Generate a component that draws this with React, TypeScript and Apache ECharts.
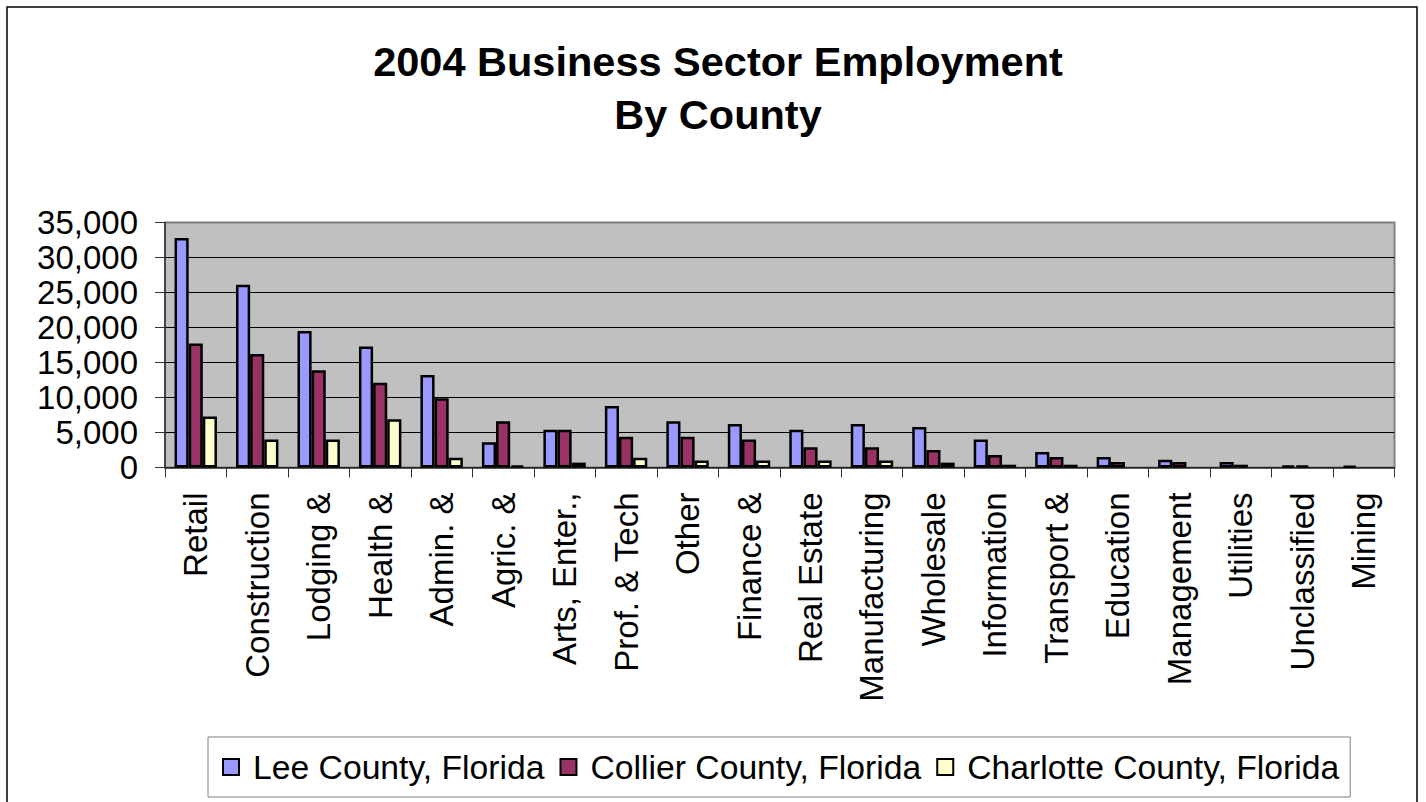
import React, { useEffect, useRef } from "react";
import * as echarts from "echarts";

const categories = [
  "Retail", "Construction", "Lodging &", "Health &", "Admin. &", "Agric. &",
  "Arts, Enter.,", "Prof. & Tech", "Other", "Finance &", "Real Estate",
  "Manufacturing", "Wholesale", "Information", "Transport &", "Education",
  "Management", "Utilities", "Unclassified", "Mining",
];

const leeCounty = [32800, 26100, 19500, 17300, 13200, 3600, 5400, 8800, 6600, 6200, 5400, 6200, 5800, 4000, 2200, 1500, 1100, 800, 300, 250];
const collierCounty = [17700, 16200, 13900, 12100, 9900, 6600, 5400, 4400, 4400, 4000, 2900, 2900, 2500, 1800, 1500, 800, 800, 400, 300, null];
const charlotteCounty = [7300, 4000, 4000, 6900, 1400, 300, 700, 1400, 1000, 1000, 1000, 1000, 700, 400, 400, null, null, null, null, null];

const seriesNames = ["Lee County, Florida", "Collier County, Florida", "Charlotte County, Florida"];
const seriesColors = ["#9999FF", "#993366", "#FFFFCC"];

const yTicks = { min: 0, max: 35000, interval: 5000 };

const FONT = "'Liberation Sans', Arial, Helvetica, sans-serif";

export default function App() {
  const ref = useRef<HTMLDivElement>(null);

  useEffect(() => {
    if (!ref.current) return;
    const chart = echarts.init(ref.current, null, { renderer: "svg" });
    const data = [leeCounty, collierCounty, charlotteCounty];
    chart.setOption({
      animation: false,
      textStyle: { fontFamily: FONT, color: "#000" },
      title: {
        text: "2004 Business Sector Employment\nBy County",
        left: 713,
        top: 30,
        textAlign: "center",
        textStyle: {
          fontFamily: FONT,
          fontSize: 41.5,
          fontWeight: "bold",
          lineHeight: 53,
          color: "#000",
        },
      },
      legend: {
        left: 208,
        top: 737,
        orient: "horizontal",
        padding: [13, 11, 13, 14],
        itemWidth: 16,
        itemHeight: 16,
        itemGap: 15,
        borderColor: "#808080",
        borderWidth: 1,
        backgroundColor: "#fff",
        icon: "rect",
        textStyle: {
          fontFamily: FONT,
          fontSize: 33.7,
          lineHeight: 33,
          color: "#000",
          padding: [0, 0, 0, 9],
        },
        data: seriesNames,
      },
      grid: {
        left: 165,
        top: 222.5,
        width: 1229.5,
        height: 245,
        show: true,
        backgroundColor: "#C0C0C0",
        borderColor: "#808080",
        borderWidth: 2,
      },
      xAxis: {
        type: "category",
        data: categories,
        axisLine: { show: true, lineStyle: { color: "#333", width: 1.5 } },
        axisTick: { show: true, length: 10, lineStyle: { color: "#333", width: 1 } },
        axisLabel: {
          rotate: 90,
          interval: 0,
          margin: 25,
          fontFamily: FONT,
          fontSize: 33,
          color: "#000",
        },
        splitLine: { show: false },
      },
      yAxis: {
        type: "value",
        min: yTicks.min,
        max: yTicks.max,
        interval: yTicks.interval,
        axisLine: { show: true, lineStyle: { color: "#333", width: 1.5 } },
        axisTick: { show: true, length: 10, lineStyle: { color: "#333", width: 1 } },
        axisLabel: {
          margin: 27,
          fontFamily: FONT,
          fontSize: 33,
          color: "#000",
          formatter: (v: number) => v.toLocaleString("en-US"),
        },
        splitLine: {
          show: true,
          lineStyle: {
            color: ["#000", "#000", "#000", "#000", "#000", "#000", "#000", "#808080"],
            width: 1,
          },
        },
      },
      series: seriesNames.map((name, i) => ({
        name,
        type: "bar",
        data: data[i],
        barGap: "0%",
        barCategoryGap: "31%",
        itemStyle: {
          color: seriesColors[i],
          borderColor: "#000",
          borderWidth: 2.5,
        },
      })),
      graphic: [
        {
          type: "rect",
          shape: { x: 7, y: 7, width: 1410, height: 810 },
          style: { fill: "none", stroke: "#000", lineWidth: 1.5 },
          silent: true,
          z: 100,
        },
      ],
    });
    return () => chart.dispose();
  }, []);

  return (
    <div
      ref={ref}
      style={{ position: "absolute", left: 0, top: 0, width: 1426, height: 802, background: "#fff" }}
    />
  );
}
